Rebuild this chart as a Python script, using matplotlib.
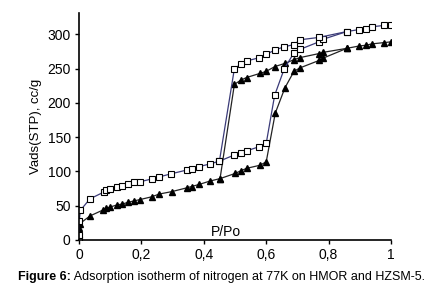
import numpy as np
import matplotlib.pyplot as plt

plt.rcParams['font.family'] = ['Liberation Sans', 'DejaVu Sans']

# HMOR (open squares)
hmor_ads_x = [0, 0, 0.001, 0.004, 0.035, 0.08, 0.087, 0.099, 0.121, 0.139, 0.158, 0.176,
              0.196, 0.233, 0.257, 0.295, 0.345, 0.361, 0.385, 0.42, 0.45, 0.498, 0.518,
              0.537, 0.577, 0.6, 0.627, 0.658, 0.689, 0.708, 0.769, 0.781, 0.858, 0.898,
              0.919, 0.938, 0.979, 1.0]
hmor_ads_y = [0, 7, 28, 43, 60, 70, 73, 75, 77, 79, 82, 84,
              85, 89, 92, 96.5, 102, 104, 107, 111, 115, 124, 127,
              130, 136, 141, 211, 250, 273, 278, 289, 292.6, 304, 307,
              308, 311, 313, 314]
hmor_des_x = [0.858, 0.769, 0.708, 0.69, 0.658, 0.628, 0.6, 0.578, 0.537, 0.518, 0.498, 0.45]
hmor_des_y = [304, 295.5, 292, 285, 282, 277, 271, 266, 261, 256, 250, 115]

# HZSM-5 (filled triangles)
hzsm_ads_x = [0, 0, 0, 0, 0, 0.003, 0.035, 0.078, 0.087, 0.099, 0.121, 0.139, 0.158,
              0.176, 0.196, 0.233, 0.257, 0.297, 0.345, 0.361, 0.385, 0.42, 0.452, 0.5,
              0.519, 0.537, 0.58, 0.6, 0.629, 0.66, 0.689, 0.708, 0.77, 0.781, 0.858,
              0.898, 0.919, 0.938, 0.979, 1.0]
hzsm_ads_y = [1, 4, 8, 13, 17, 24, 35, 44, 46, 48, 51, 52.5, 55,
              57, 59, 63, 67, 70.5, 76, 78, 81, 86, 89.5, 97,
              101, 104.5, 109, 114, 185, 222, 246, 251, 262, 265, 279.5,
              283, 284, 286, 288, 289]
hzsm_des_x = [0.858, 0.781, 0.77, 0.708, 0.689, 0.66, 0.628, 0.6, 0.58, 0.537, 0.518, 0.498, 0.452]
hzsm_des_y = [279.5, 273.6, 272, 266, 263, 257.6, 253, 246, 243, 237, 233, 227, 89.5]

fig = plt.figure(figsize=(4.39, 2.97), dpi=100)
ax = fig.add_axes([0.18, 0.192, 0.7107, 0.764])

sq = dict(marker='s', ms=4.3, mfc='white', mec='black', mew=0.8, color='#3a3a78', lw=0.9)
tr = dict(marker='^', ms=4.8, mfc='black', mec='black', color='#222222', lw=0.9)

ax.plot(hzsm_ads_x, hzsm_ads_y, **tr)
ax.plot(hzsm_des_x, hzsm_des_y, **tr)
ax.plot(hmor_ads_x, hmor_ads_y, **sq)
ax.plot(hmor_des_x, hmor_des_y, **sq)

ax.set_xlim(0, 1)
ax.set_ylim(0, 331)
ax.set_xticks([0, 0.2, 0.4, 0.6, 0.8, 1])
ax.set_xticklabels(['0', '0,2', '0,4', '0,6', '0,8', '1'])
ax.set_yticks([0, 50, 100, 150, 200, 250, 300])
ax.spines['top'].set_visible(False)
ax.spines['right'].set_visible(False)
for s in ['left', 'bottom']:
    ax.spines[s].set_linewidth(1.2)
    ax.spines[s].set_clip_on(False)
ax.tick_params(direction='out', length=3, width=1, labelsize=10, pad=3)

ax.set_ylabel('Vads(STP), cc/g', fontsize=9.5, labelpad=4)
ax.text(0.47, 2, 'P/Po', fontsize=10, ha='center', va='bottom')

# caption: bold label followed by regular text
t1 = fig.text(0.041, 0.057, 'Figure 6:', fontsize=9, fontweight='bold', va='baseline')
r = fig.canvas.get_renderer()
bb = t1.get_window_extent(r).transformed(fig.transFigure.inverted())
fig.text(bb.x1, 0.057, ' Adsorption isotherm of nitrogen at 77K on HMOR and HZSM-5.',
         fontsize=9, va='baseline')

fig.savefig('out.png', dpi=100)
